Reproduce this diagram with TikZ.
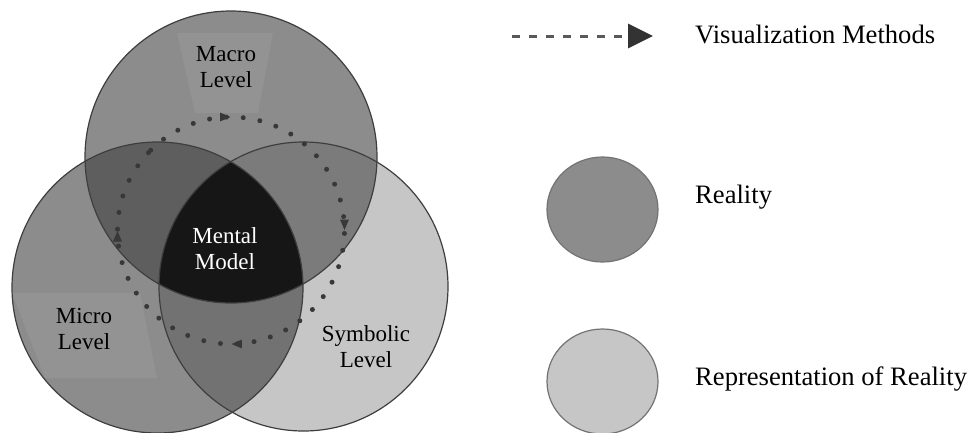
\documentclass[tikz,border=0pt]{standalone}
\usepackage{fontspec}
\setmainfont{Liberation Serif}
\usetikzlibrary{arrows.meta,positioning,shapes.geometric,decorations.markings}

\definecolor{realgray}{HTML}{8C8C8C}
\definecolor{reprgray}{HTML}{C6C6C6}
\definecolor{panelgray}{HTML}{939393}
\definecolor{topleft}{HTML}{5E5E5E}
\definecolor{topright}{HTML}{7B7B7B}
\definecolor{leftright}{HTML}{727272}
\definecolor{coregray}{HTML}{161616}
\definecolor{ringline}{HTML}{3E3E3E}
\definecolor{dotgray}{HTML}{383838}

\tikzset{
  >=Triangle,
  ring/.style={draw=ringline, line width=1.2pt},
  level label/.style={
    align=center,
    inner sep=0pt,
    font=\fontsize{23}{26}\selectfont},
  legend label/.style={
    anchor=base west,
    inner sep=0pt,
    font=\fontsize{26.6}{30}\selectfont},
  key dot/.style={
    ellipse,
    draw=black!55, line width=1.2pt,
    minimum width=111pt,
    minimum height=105pt},
}

\begin{document}
\begin{tikzpicture}[
    x=1pt, y=-1pt,
    loop line/.style={
      draw=dotgray, line width=5pt, line cap=round,
      dash pattern=on 0pt off 16.9pt,
      postaction={decorate},
      decoration={markings,
        mark=at position 0.125 with {\arrow[solid]{Triangle[length=11pt,width=8pt]}},
        mark=at position 0.375 with {\arrow[solid]{Triangle[length=11pt,width=8pt]}},
        mark=at position 0.625 with {\arrow[solid]{Triangle[length=11pt,width=8pt]}},
        mark=at position 0.875 with {\arrow[solid]{Triangle[length=11pt,width=8pt]}}}},
    key arrow/.style={
      draw=black!65, line width=3pt,
      dash pattern=on 8pt off 9pt,
      -{Triangle[length=25pt,width=24pt,color=black!80]}}
    ]

    \useasboundingbox[fill=white] (0,0) rectangle (970,432);

    % Venn circles
    \def\macro{(231,157) circle (146)}
    \def\micro{(157.5,287.5) circle (145.5)}
    \def\symb{(303.5,286.5) circle (144.5)}

    \fill[realgray] \macro;
    \fill[realgray] \micro;
    \fill[reprgray] \symb;

    % lighter panels behind the level names
    \begin{scope}
      \clip \macro;
      \fill[panelgray] (177,33) -- (273,33) -- (258,113) -- (195,113) -- cycle;
    \end{scope}
    \begin{scope}
      \clip \micro;
      \fill[panelgray] (12,293) -- (140,293) -- (157,378) -- (45,378) -- cycle;
    \end{scope}

    % overlaps
    \begin{scope}
      \clip \macro;
      \fill[topleft] \micro;
      \fill[topright] \symb;
    \end{scope}
    \begin{scope}
      \clip \micro;
      \fill[leftright] \symb;
    \end{scope}
    \begin{scope}
      \clip \macro;
      \clip \micro;
      \fill[coregray] \symb;
    \end{scope}

    \draw[ring] \macro;
    \draw[ring] \micro;
    \draw[ring] \symb;

    % visualization loop
    \draw[loop line] (231,230.5) ++(-135:113.5)
         arc[start angle=-135, end angle=225, radius=113.5];

    % level names
    \node[level label] (macro label) at (226,67.5) {Macro\\Level};
    \node[level label, text=white] (mental label) at (225,248.5) {Mental\\Model};
    \node[level label] (micro label) at (84,329) {Micro\\Level};
    \node[level label] (symb label) at (366,347) {Symbolic\\Level};

    % legend
    \coordinate (key start) at (512,36);
    \coordinate (key end) at (653,36);
    \draw[key arrow] (key start) -- (key end);
    \node[legend label] (vis text) at (695,43) {Visualization Methods};

    \node[key dot, fill=realgray] (reality key) at (602.5,209.5) {};
    \node[legend label] (reality text) at (695,203) {Reality};

    \node[key dot, fill=reprgray] (repr key) at (602.5,381.5) {};
    \node[legend label] (repr text) at (695,385) {Representation of Reality};

\end{tikzpicture}
\end{document}
